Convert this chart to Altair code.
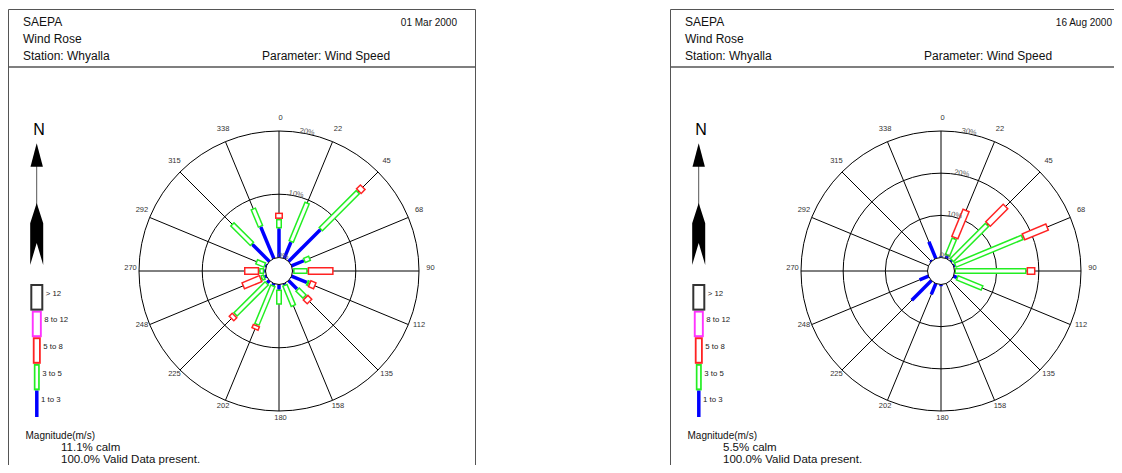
import altair as alt
import pandas as pd

# ---------------- data ----------------
directions = [0, 22.5, 45, 67.5, 90, 112.5, 135, 157.5, 180, 202.5, 225, 247.5, 270, 292.5, 315, 337.5]
dir_labels = ["0", "22", "45", "68", "90", "112", "135", "158", "180", "202", "225", "248", "270", "292", "315", "338"]
classes = ["1 to 3", "3 to 5", "5 to 8", "8 to 12", "> 12"]

# 01 Mar 2000 : % of time per direction, per speed class (m/s)
mar_1to3 = [4.6, 2.8, 7.1, 2.1, 0.1, 2.6, 1.9, 0.2, 0.8, 0.3, 0.5, 0.3, 0.2, 0.2, 3.8, 5.4]
mar_3to5 = [1.5, 6.8, 8.5, 1.1, 2.3, 0.4, 1.8, 3.7, 2.4, 6.8, 7.2, 0.6, 0.8, 1.6, 4.6, 3.2]
mar_5to8 = [1.0, 0.0, 1.1, 0.0, 4.1, 1.1, 1.1, 0.0, 0.0, 0.8, 0.9, 3.2, 2.4, 0.0, 0.0, 0.0]
mar_8to12 = [0.0] * 16
mar_gt12 = [0.0] * 16

# 16 Aug 2000
aug_1to3 = [0.3, 0.7, 0.3, 0.3, 0.0, 0.8, 0.0, 0.0, 0.4, 2.8, 6.6, 2.3, 0.0, 0.0, 0.3, 4.3]
aug_3to5 = [0.0, 4.5, 12.1, 17.5, 17.1, 6.7, 0.0, 0.0, 0.0, 0.0, 0.0, 0.0, 0.0, 0.0, 0.0, 0.0]
aug_5to8 = [0.0, 7.3, 6.2, 6.4, 2.1, 0.0, 0.0, 0.0, 0.0, 0.0, 0.0, 0.0, 0.0, 0.0, 0.0, 0.0]
aug_8to12 = [0.0] * 16
aug_gt12 = [0.0] * 16

panel_dates = ["01 Mar 2000", "16 Aug 2000"]
calm_pct = [11.1, 5.5]
valid_pct = [100.0, 100.0]
ring_max = [20, 30]
ring_step = 10
org = "SAEPA"
title = "Wind Rose"
station = "Whyalla"
parameter = "Wind Speed"

# ---------------- style / layout ----------------
FONT = "Liberation Sans"
class_colors = ["#0000ff", "#22ee22", "#ff2222", "#ff33ff", "#333333"]
W_OUT = "[3.5, 6, 8, 10, 13]"
W_IN = "[0, 3, 5, 7, 10]"
W_LEG_IN = "[0, 2.6, 4.4, 6.2, 9]"
CX, CY = 279, 271
R0, ROUT = 13.5, 140
DX = 662
LEG_X, LEG_Y0, LEG_STEP = 36.8, 417, 26.6

xs = alt.Scale(domain=[8, 1114], nice=False, zero=False)
ys = alt.Scale(domain=[465, 8], nice=False, zero=False)


def X(f):
    return alt.X(f + ":Q", scale=xs, axis=None)


def Y(f):
    return alt.Y(f + ":Q", scale=ys, axis=None)


# ---------------- tables ----------------
series = [[mar_1to3, mar_3to5, mar_5to8, mar_8to12, mar_gt12],
          [aug_1to3, aug_3to5, aug_5to8, aug_8to12, aug_gt12]]
rows = []
for p, ser in enumerate(series):
    for ci, vals in enumerate(ser):
        for d, v in zip(directions, vals):
            rows.append(dict(panel=p, dir=d, cls=classes[ci], ci=ci, pct=v, rmax=ring_max[p]))
bars_df = pd.DataFrame(rows)

dir_df = pd.DataFrame([dict(panel=p, dir=d, label=l, rmax=ring_max[p])
                       for p in range(2) for d, l in zip(directions, dir_labels)])
ring_df = pd.DataFrame([dict(panel=p, pct=v, rmax=ring_max[p])
                        for p in range(2) for v in range(0, ring_max[p] + 1, ring_step)])
panel_df = pd.DataFrame(dict(panel=[0, 1], date=panel_dates, calm=calm_pct, valid=valid_pct))
leg_df = pd.DataFrame([dict(panel=p, cls=c, ci=i) for p in range(2) for i, c in enumerate(classes)])

cx = f"{CX} + {DX}*datum.panel"
kk = f"({ROUT} - {R0})/datum.rmax"

# ---------------- grid ----------------
rings = alt.Chart(ring_df).transform_filter("datum.pct > 0").transform_calculate(
    cx=cx, r=f"{R0} + {kk}*datum.pct", cy=f"{CY}", sz="pow(2*datum.r, 2)"
).mark_point(shape="circle", filled=False, color="black", strokeWidth=1, opacity=1).encode(
    x=X("cx"), y=Y("cy"), size=alt.Size("sz:Q", scale=None))

spokes = alt.Chart(dir_df).transform_calculate(
    cx=cx, th="datum.dir*PI/180",
    x1=f"datum.cx + {R0}*sin(datum.th)", y1=f"{CY} - {R0}*cos(datum.th)",
    x2=f"datum.cx + {ROUT}*sin(datum.th)", y2=f"{CY} - {ROUT}*cos(datum.th)"
).mark_rule(color="black", strokeWidth=1).encode(x=X("x1"), y=Y("y1"), x2="x2:Q", y2="y2:Q")

dir_text = alt.Chart(dir_df).transform_calculate(
    cx=cx, th="datum.dir*PI/180",
    tx=f"datum.cx + 150*sin(datum.th) + 1.5", ty=f"{CY} - 150*cos(datum.th) - 3.5"
).mark_text(font=FONT, fontSize=7.5, color="#333", align="center", baseline="middle").encode(
    x=X("tx"), y=Y("ty"), text="label:N")

pct_text = alt.Chart(ring_df).transform_calculate(
    cx=cx, r=f"{R0} + {kk}*datum.pct", th="10*PI/180",
    tx="datum.cx + datum.r*sin(datum.th) - 4", ty=f"{CY} - datum.r*cos(datum.th) - 0.5",
    lab="datum.pct + '%'"
).mark_text(font=FONT, fontSize=7.5, color="#555", align="left", baseline="alphabetic", angle=10).encode(
    x=X("tx"), y=Y("ty"), text="lab:N")

# ---------------- bars ----------------
base = alt.Chart(bars_df).transform_window(
    cum="sum(pct)", groupby=["panel", "dir"], sort=[alt.SortField("ci")], frame=[None, 0]
).transform_filter("datum.pct > 0").transform_calculate(
    cx=cx, k=kk, th="datum.dir*PI/180",
    r1=f"{R0} + datum.k*(datum.cum - datum.pct)", r2=f"{R0} + datum.k*datum.cum")

outer = base.transform_calculate(
    x1="datum.cx + datum.r1*sin(datum.th)", y1=f"{CY} - datum.r1*cos(datum.th)",
    x2="datum.cx + datum.r2*sin(datum.th)", y2=f"{CY} - datum.r2*cos(datum.th)",
    sw=f"{W_OUT}[datum.ci]"
).mark_rule(strokeCap="butt").encode(
    x=X("x1"), y=Y("y1"), x2="x2:Q", y2="y2:Q",
    color=alt.Color("cls:N", scale=alt.Scale(domain=classes, range=class_colors), legend=None),
    strokeWidth=alt.StrokeWidth("sw:Q", scale=None))

inner = base.transform_filter("datum.ci > 0").transform_calculate(
    a="datum.r1 + 1.5", b="datum.r2 - 1.5"
).transform_filter("datum.b > datum.a").transform_calculate(
    x1="datum.cx + datum.a*sin(datum.th)", y1=f"{CY} - datum.a*cos(datum.th)",
    x2="datum.cx + datum.b*sin(datum.th)", y2=f"{CY} - datum.b*cos(datum.th)",
    sw=f"{W_IN}[datum.ci]"
).mark_rule(strokeCap="butt", color="white").encode(
    x=X("x1"), y=Y("y1"), x2="x2:Q", y2="y2:Q", strokeWidth=alt.StrokeWidth("sw:Q", scale=None))

calm = alt.Chart(panel_df).transform_calculate(cx=cx, cy=f"{CY}").mark_point(
    shape="circle", filled=True, fill="white", stroke="black", strokeWidth=1, opacity=1,
    size=(2 * R0) ** 2).encode(x=X("cx"), y=Y("cy"))

# ---------------- legend ----------------
leg_base = alt.Chart(leg_df).transform_calculate(
    lx=f"{LEG_X} + {DX}*datum.panel",
    yb=f"{LEG_Y0} - {LEG_STEP}*datum.ci", yt=f"{LEG_Y0} - {LEG_STEP}*(datum.ci + 1)")
leg_outer = leg_base.transform_calculate(sw=f"{W_OUT}[datum.ci]").mark_rule(strokeCap="butt").encode(
    x=X("lx"), y=Y("yb"), y2="yt:Q",
    color=alt.Color("cls:N", scale=alt.Scale(domain=classes, range=class_colors), legend=None),
    strokeWidth=alt.StrokeWidth("sw:Q", scale=None))
leg_inner = leg_base.transform_filter("datum.ci > 0").transform_calculate(
    a="datum.yb - 2", b="datum.yt + 2", sw=f"{W_LEG_IN}[datum.ci]"
).mark_rule(strokeCap="butt", color="white").encode(
    x=X("lx"), y=Y("a"), y2="b:Q", strokeWidth=alt.StrokeWidth("sw:Q", scale=None))
leg_text = leg_base.transform_calculate(
    tx=f"datum.lx + {W_OUT}[datum.ci]/2 + 2.5", ty="(datum.yb + datum.yt)/2 - 3.5"
).mark_text(font=FONT, fontSize=7.8, color="#222", align="left", baseline="middle").encode(
    x=X("tx"), y=Y("ty"), text="cls:N")

# ---------------- north arrow ----------------
north_text = alt.Chart(panel_df).transform_calculate(tx=f"39 + {DX}*datum.panel", ty="135", t="'N'").mark_text(
    font=FONT, fontSize=16, color="black", align="center", baseline="alphabetic").encode(
    x=X("tx"), y=Y("ty"), text="t:N")
shaft = alt.Chart(panel_df).transform_calculate(tx=f"36.7 + {DX}*datum.panel", y1="160", y2="215").mark_rule(
    color="#555", strokeWidth=1).encode(x=X("tx"), y=Y("y1"), y2="y2:Q")
head = alt.Chart(panel_df).transform_calculate(tx=f"36.7 + {DX}*datum.panel", ty="155").mark_point(
    shape="M0,-1 L0.53,1 L-0.53,1 Z", filled=True, color="black", opacity=1, size=548).encode(
    x=X("tx"), y=Y("ty"))
feather = alt.Chart(panel_df).transform_calculate(tx=f"36.7 + {DX}*datum.panel", ty="234").mark_point(
    shape="M0,-1 L0.21,-0.35 L0.21,1 L0,0.29 L-0.21,1 L-0.21,-0.35 Z",
    filled=True, color="black", opacity=1, size=3844).encode(x=X("tx"), y=Y("ty"))

# ---------------- frame & header ----------------
frame = alt.Chart(panel_df).transform_calculate(
    xa=f"8.5 + {DX}*datum.panel", xb=f"475.5 + {DX}*datum.panel", ya="9.5", yb="490"
).mark_rect(filled=False, stroke="#555", strokeWidth=1).encode(x=X("xa"), x2="xb:Q", y=Y("ya"), y2="yb:Q")
sep = alt.Chart(panel_df).transform_calculate(
    xa=f"8.5 + {DX}*datum.panel", xb=f"475.5 + {DX}*datum.panel", ya="67"
).mark_rule(color="#555", strokeWidth=1.3).encode(x=X("xa"), x2="xb:Q", y=Y("ya"))


def text_layer(expr, x, y, size, align="left", color="#111", shift=0):
    return alt.Chart(panel_df).transform_calculate(
        t=expr, tx=f"{x} + {DX}*datum.panel - {shift}*datum.panel", ty=f"{y}"
    ).mark_text(font=FONT, fontSize=size, color=color, align=align, baseline="alphabetic").encode(
        x=X("tx"), y=Y("ty"), text="t:N")


headers = [
    text_layer(f"'{org}'", 23, 25.5, 12),
    text_layer(f"'{title}'", 23, 42.5, 12),
    text_layer(f"'Station: {station}'", 23, 59.5, 12),
    text_layer(f"'Parameter: {parameter}'", 262, 59.5, 12),
    text_layer("datum.date", 457, 25.5, 10, align="right", shift=7),
    text_layer("'Magnitude(m/s)'", 25.5, 438.5, 10),
    text_layer("format(datum.calm, '.1f') + '% calm'", 61, 451.3, 11.5),
    text_layer("format(datum.valid, '.1f') + '% Valid Data present.'", 61, 463.3, 11.5),
]

chart = alt.layer(
    frame, sep, rings, spokes, outer, inner, calm, dir_text, pct_text,
    leg_outer, leg_inner, leg_text, shaft, head, feather, north_text, *headers
).properties(
    width=1106, height=457, padding=0, autosize=alt.AutoSizeParams(type="none")
).configure_view(strokeWidth=0)

chart.save("out.html", embed_options={"renderer": "svg", "actions": False})
